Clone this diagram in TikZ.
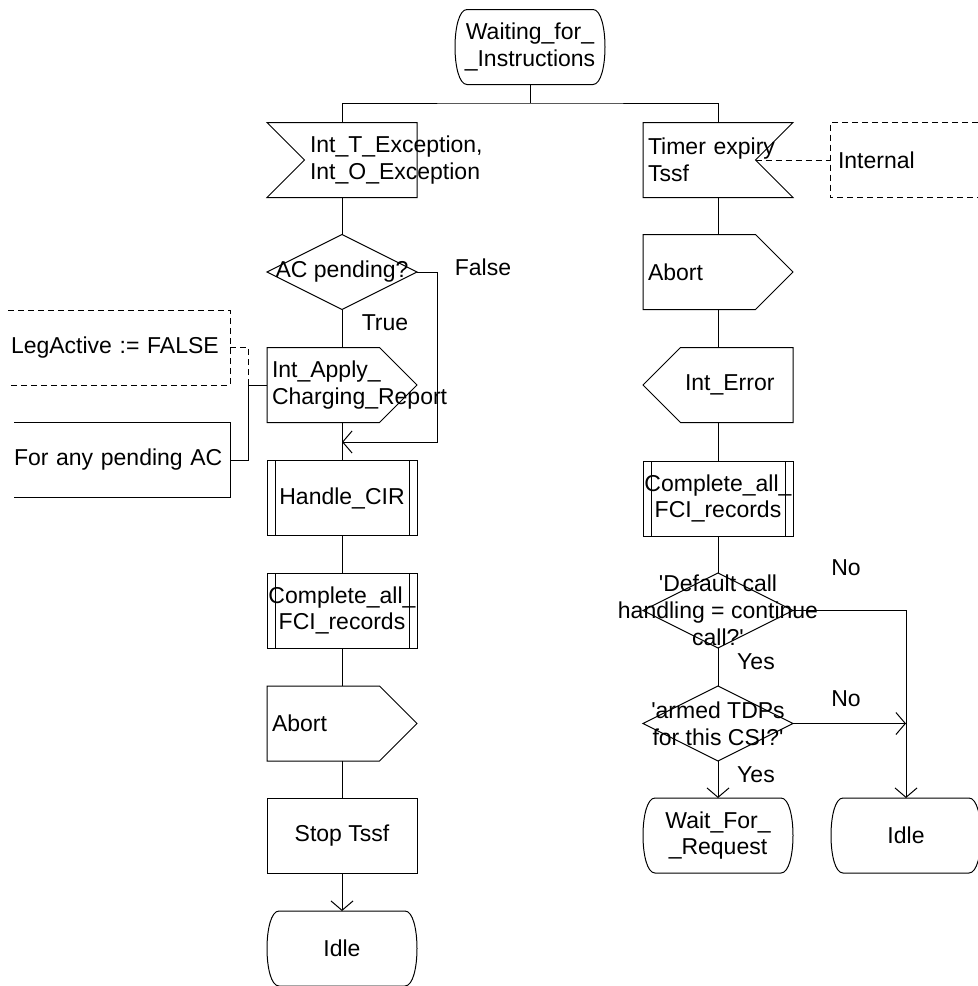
\documentclass[tikz,border=0pt]{standalone}
\usepackage{fontspec}
\setmainfont{Liberation Sans}
\usepackage{tikz}
\usetikzlibrary{arrows.meta, positioning}

\newcommand{\sdlfont}{\fontsize{11.5}{13.4}\selectfont}
\newcommand{\wideline}[1]{\makebox[0pt]{#1}}

\tikzset{
  sym/.style={minimum width=75pt, minimum height=37.5pt, inner sep=0pt, outer sep=0pt},
  lefttext/.style={text width=#1, align=left},
  cmtdash/.style={dash pattern=on 3pt off 2pt},
  sdlarrow/.style={-{Straight Barb[length=4.7pt,width=11pt]}},
  statebox/.style={sym, align=center, append after command={\pgfextra{
      \draw[shift={(\tikzlastnode.center)}] (-31.5pt,18.75pt) -- (31.5pt,18.75pt)
        .. controls (39.5pt,18.75pt) and (39.5pt,-18.75pt) .. (31.5pt,-18.75pt)
        -- (-31.5pt,-18.75pt)
        .. controls (-39.5pt,-18.75pt) and (-39.5pt,18.75pt) .. (-31.5pt,18.75pt);}}},
  inleft/.style={sym, append after command={\pgfextra{
      \draw[shift={(\tikzlastnode.center)}] (-37.5pt,18.75pt) -- (37.5pt,18.75pt)
        -- (37.5pt,-18.75pt) -- (-37.5pt,-18.75pt) -- (-18.75pt,0pt) -- cycle;}}},
  inright/.style={sym, append after command={\pgfextra{
      \draw[shift={(\tikzlastnode.center)}] (-37.5pt,18.75pt) -- (37.5pt,18.75pt)
        -- (18.75pt,0pt) -- (37.5pt,-18.75pt) -- (-37.5pt,-18.75pt) -- cycle;}}},
  outright/.style={sym, append after command={\pgfextra{
      \draw[shift={(\tikzlastnode.center)}] (-37.5pt,18.75pt) -- (18.75pt,18.75pt)
        -- (37.5pt,0pt) -- (18.75pt,-18.75pt) -- (-37.5pt,-18.75pt) -- cycle;}}},
  outleft/.style={sym, append after command={\pgfextra{
      \draw[shift={(\tikzlastnode.center)}] (-18.75pt,18.75pt) -- (37.5pt,18.75pt)
        -- (37.5pt,-18.75pt) -- (-18.75pt,-18.75pt) -- (-37.5pt,0pt) -- cycle;}}},
  procbox/.style={sym, align=center, append after command={\pgfextra{
      \draw[shift={(\tikzlastnode.center)}] (-37.5pt,18.75pt) rectangle (37.5pt,-18.75pt)
        (-33.5pt,18.75pt) -- (-33.5pt,-18.75pt) (33.5pt,18.75pt) -- (33.5pt,-18.75pt);}}},
  taskbox/.style={sym, align=center, append after command={\pgfextra{
      \draw[shift={(\tikzlastnode.center)}] (-37.5pt,18.75pt) rectangle (37.5pt,-18.75pt);}}},
  decbox/.style={sym, align=center, append after command={\pgfextra{
      \draw[shift={(\tikzlastnode.center)}] (0pt,18.75pt) -- (37.5pt,0pt)
        -- (0pt,-18.75pt) -- (-37.5pt,0pt) -- cycle;}}},
  cmtleft/.style={sym, append after command={\pgfextra{
      \draw[#1] (\tikzlastnode.north west) -- (\tikzlastnode.north east)
        -- (\tikzlastnode.south east) -- (\tikzlastnode.south west);}}},
  cmtleft/.default=solid,
  cmtright/.style={sym, append after command={\pgfextra{
      \draw[#1] (\tikzlastnode.north east) -- (\tikzlastnode.north west)
        -- (\tikzlastnode.south west) -- (\tikzlastnode.south east);}}},
  cmtright/.default=solid
}

\begin{document}
\begin{tikzpicture}[x=0.5pt, y=-0.5pt, line width=0.5pt, every node/.style={font=\sdlfont}]
  \fill[white] (0,0) rectangle (978,986);
  \useasboundingbox (0,0) rectangle (978,986);

  \node[statebox] (st) at (530,47) {Waiting\_for\_\\\_Instructions};
  \node[inleft, lefttext=32pt] (in1) at (342,160) {Int\_T\_Exception,\\Int\_O\_Exception};
  \node[inright, lefttext=70pt] (in2) at (718,160) {Timer expiry\\Tssf};
  \node[cmtright=cmtdash, minimum width=74pt, lefttext=66pt] (int) at (904,160) {Internal};
  \coordinate (fork) at (530,103);
  \draw (st) -- (fork);
  \draw (in1) |- (fork) -| (in2);
  \draw[cmtdash] ([xshift=-18.75pt]in2.east) -- (int.west);

  \node[decbox] (dec1) at (342,272) {AC pending?};
  \node[outright, lefttext=70pt] (out1) at (342,385) {Int\_Apply\_\\Charging\_Report};
  \node[cmtleft=cmtdash, minimum width=111pt, lefttext=108pt] (leg) at (119,347.5) {LegActive := FALSE};
  \node[cmtleft, minimum width=108pt, lefttext=108pt] (any) at (122,460) {For any pending AC};
  \node[procbox] (proc1) at (342,498) {Handle\_CIR};
  \node[procbox] (proc2) at (342,610.5) {Complete\_all\_\\FCI\_records};
  \node[outright, lefttext=70pt] (out2) at (342,723.5) {Abort};
  \node[taskbox] (task) at (342,835.5) {Stop Tssf};
  \node[statebox] (idle1) at (342,948.5) {Idle};
  \node (lfalse) at (483,267) {False};
  \node (ltrue) at (385,323) {True};
  \coordinate (join1) at (342,442);
  \coordinate (cj) at (248,385);

  \draw (in1) -- (dec1) -- (out1) -- (proc1) -- (proc2) -- (out2) -- (task);
  \draw[sdlarrow] (task) -- (idle1);
  \draw[sdlarrow] (dec1.east) -- ++(20,0) |- (join1);
  \draw (out1.west) -- (cj) |- (any.east);
  \draw[cmtdash] (cj) |- (leg.east);

  \node[outright, lefttext=70pt] (out3) at (718,272) {Abort};
  \node[outleft, lefttext=33pt] (in3) at (718,385) {Int\_Error};
  \node[procbox] (proc3) at (718,498.5) {Complete\_all\_\\FCI\_records};
  \node[decbox] (dec2) at (718,610.5) {\textquotesingle Default call\\\wideline{handling = continue}\\call?\textquotesingle};
  \node[decbox] (dec3) at (718,723.5) {\textquotesingle armed TDPs\\for this CSI?\textquotesingle};
  \node[statebox] (wait) at (718,835.5) {Wait\_For\_\\\_Request};
  \node[statebox] (idle2) at (906,835.5) {Idle};
  \node (lno1) at (846,568) {No};
  \node (lyes1) at (756,662) {Yes};
  \node (lno2) at (846,699) {No};
  \node (lyes2) at (756,775) {Yes};

  \draw (in2) -- (out3) -- (in3) -- (proc3) -- (dec2) -- (dec3);
  \draw[sdlarrow] (dec3) -- (wait);
  \draw[sdlarrow] (dec2.east) -| (idle2.north);
  \draw[sdlarrow] (dec3.east) -- (dec3.east -| idle2.north);
\end{tikzpicture}
\end{document}
